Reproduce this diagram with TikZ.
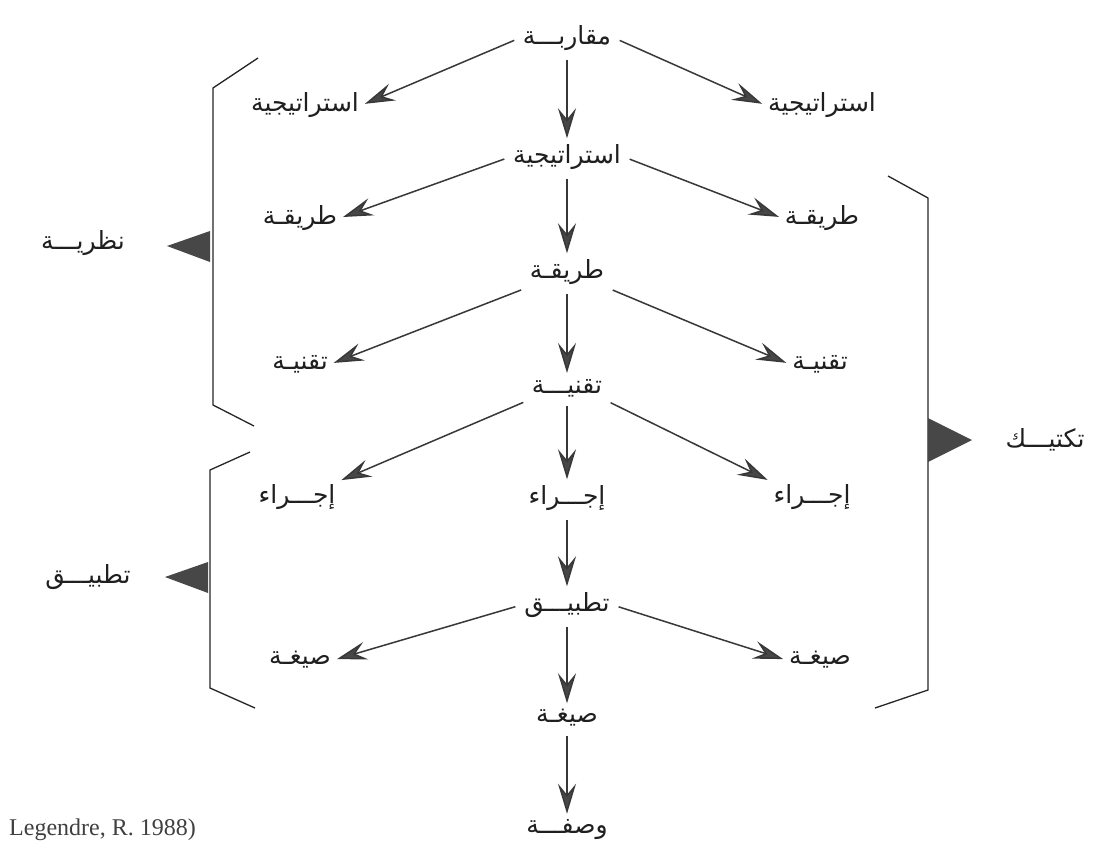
\documentclass[tikz,border=0pt]{standalone}
\usepackage{fontspec}
\setmainfont{Liberation Serif}
\usetikzlibrary{arrows.meta,calc}
\TeXXeTstate=1
\newfontfamily\arabicfont[Script=Arabic]{DejaVu Sans}
\tikzset{
  lbl/.style={font=\arabicfont\fontsize{25}{28}\selectfont, inner sep=3pt, text=black!88},
  arr/.style={draw=black!78, line width=1.5pt, shorten <=6pt, shorten >=3pt,
    -{Stealth[length=30pt,width=18pt,inset=11pt,fill=black!72]}},
  brk/.style={draw=black!85, line width=1.3pt},
  tri/.style={fill=black!72, draw=none}
}
\begin{document}
\begin{tikzpicture}[x=1pt,y=-1pt]
\useasboundingbox[fill=white] (0,0) rectangle (1105,852);
% center column
\node[lbl] (c1) at (567,38)  {\beginR مقاربـــة\endR};
\node[lbl] (c2) at (567,157) {\beginR استراتيجية\endR};
\node[lbl] (c3) at (567,272) {\beginR طريقـة\endR};
\node[lbl] (c4) at (567,388) {\beginR تقنيـــة\endR};
\node[lbl] (c5) at (567,498) {\beginR إجـــراء\endR};
\node[lbl] (c6) at (567,605) {\beginR تطبيـــق\endR};
\node[lbl] (c7) at (567,718) {\beginR صيغـة\endR};
\node[lbl] (c8) at (567,830) {\beginR وصفـــة\endR};
% left column
\node[lbl] (l1) at (305,105) {\beginR استراتيجية\endR};
\node[lbl] (l2) at (300,218) {\beginR طريقـة\endR};
\node[lbl] (l3) at (300,364) {\beginR تقنيـة\endR};
\node[lbl] (l4) at (297,497) {\beginR إجـــراء\endR};
\node[lbl] (l5) at (300,660) {\beginR صيغـة\endR};
% right column
\node[lbl] (r1) at (822,105) {\beginR استراتيجية\endR};
\node[lbl] (r2) at (822,218) {\beginR طريقـة\endR};
\node[lbl] (r3) at (820,364) {\beginR تقنيـة\endR};
\node[lbl] (r4) at (812,497) {\beginR إجـــراء\endR};
\node[lbl] (r5) at (820,660) {\beginR صيغـة\endR};
% side labels
\node[lbl] (nz) at (83,243)  {\beginR نظريـــة\endR};
\node[lbl] (tb) at (88,577)  {\beginR تطبيـــق\endR};
\node[lbl] (tk) at (1045,440) {\beginR تكتيـــك\endR};
\node[font=\fontsize{24}{28}\selectfont, text=black!75, anchor=west, inner sep=0pt] (src) at (9,830) {Legendre, R. 1988)};
% arrows
\draw[arr] (c1.west) -- (l1.east);
\draw[arr] (c1.east) -- (r1.west);
\draw[arr] (c1.south) -- (c2.north);
\draw[arr] (c2.west) -- (l2.east);
\draw[arr] (c2.east) -- (r2.west);
\draw[arr] (c2.south) -- (c3.north);
\draw[arr] (c3.south west) -- (l3.east);
\draw[arr] (c3.south east) -- (r3.west);
\draw[arr] (c3.south) -- (c4.north);
\draw[arr] (c4.south west) -- (l4.north east);
\draw[arr] (c4.south east) -- (r4.north west);
\draw[arr] (c4.south) -- (c5.north);
\draw[arr] (c5.south) -- (c6.north);
\draw[arr] (c6.west) -- (l5.east);
\draw[arr] (c6.east) -- (r5.west);
\draw[arr] (c6.south) -- (c7.north);
\draw[arr] (c7.south) -- (c8.north);
% brackets
\draw[brk] (258,58) -- (213,88) -- (213,405) -- (254,426);
\draw[brk] (250,452) -- (210,470) -- (210,688) -- (255,708);
\draw[brk] (888,176) -- (928,198) -- (928,690) -- (875,708);
% triangles
\fill[tri] (210,231) -- (167,246) -- (210,262) -- cycle;
\fill[tri] (208,562) -- (165,577) -- (208,593) -- cycle;
\fill[tri] (928,418) -- (972,440) -- (928,462) -- cycle;
\end{tikzpicture}
\end{document}
